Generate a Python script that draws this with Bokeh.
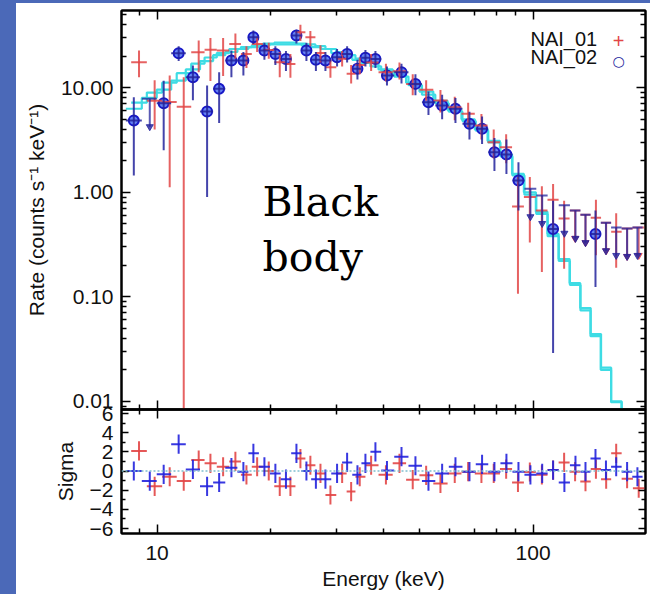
import numpy as np
from bokeh.plotting import figure
from bokeh.models import (LogAxis, LinearAxis, FixedTicker, PrintfTickFormatter,
                          Range1d, Label, ColumnDataSource, Span)
from bokeh.layouts import column
from bokeh.embed import file_html
from bokeh.resources import INLINE

# ---------------- data ----------------
# NAI_01 (red) bin centres in keV
nai01_energy = [8.95, 9.85, 10.80, 11.77, 12.90, 13.86, 14.98, 16.15, 17.28, 18.45,
                19.81, 21.19, 22.62, 24.05, 25.56, 27.19, 28.90, 31.05, 32.81, 34.58,
                37.08, 40.6, 44.11, 47.84, 51.94, 56.69, 61.88, 67.17, 72.86, 78.56,
                84.77, 91.13, 98.0, 105.5, 113.0, 120.9, 129.3, 137.8, 146.9, 156.4,
                166.3, 177.8, 190.9]
nai01_rate = [17.6, 7.5, 7.3, 6.6, 21.9, 23.1, 22.7, 26.3, 21.1, 26.3,
              23.0, 17.6, 16.9, 34.0, 30.5, 21.5, 15.7, 19.0, 13.6, 16.5,
              17.5, 14.1, 14.4, 10.9, 9.56, 7.55, 6.5, 5.64, 4.36, 3.02,
              2.70, 0.73, 0.90, 0.67, 0.85, 0.56, None, None, 0.57, None,
              0.42, None, None]
nai01_lo = [12.6, 4.0, 1.12, 0.0, 14.1, 11.6, 13.0, 19.0, 15.5, 22.0,
            19.0, 12.6, 12.5, 28.0, 25.0, 17.5, 12.5, 16.0, 11.0, 13.5,
            14.5, 11.5, 12.0, 8.5, 7.5, 5.8, 4.9, 4.2, 3.2, 2.1,
            1.9, 0.107, 0.33, 0.173, 0.45, 0.186, None, None, 0.25, None,
            0.19, None, None]
nai01_hi = [22.7, 11.8, 13.1, 12.6, 28.4, 30.0, 30.0, 33.0, 25.0, 31.0,
            27.0, 22.0, 21.0, 40.0, 35.0, 25.5, 18.5, 22.5, 16.5, 19.5,
            21.0, 17.0, 17.5, 13.5, 11.8, 9.5, 8.2, 7.2, 5.6, 4.0,
            3.6, 1.40, 1.40, 1.14, 1.20, 0.83, None, None, 0.85, None,
            0.63, None, None]
nai01_upper = [None] * 36 + [0.67, 0.61, None, 0.51, None, 0.45, 0.46]
nai01_model = [7.2, 9.0, 11.2, 13.8, 17.0, 19.5, 21.5, 23.5, 24.5, 25.5,
               26.5, 27.0, 27.0, 26.5, 26.0, 25.0, 23.5, 22.0, 20.5, 19.0,
               17.5, 15.0, 13.3, 11.2, 9.2, 7.5, 6.1, 5.0, 4.0, 3.1,
               2.3, 1.5, 1.0, 0.65, 0.40, 0.23, 0.135, 0.078, 0.044, 0.021,
               0.010, 0.005, 0.0023]
nai01_sigma = [2.1, -1.6, -0.6, -1.05, 1.15, 0.8, 0.45, 1.0, -0.4, 0.45,
               0.0, -1.6, -1.6, 1.3, 0.6, -0.25, -2.5, -0.25, -2.15, -0.6,
               0.6, -0.4, 0.8, -0.9, -0.45, -1.3, -0.25, -0.07, -0.25, -0.25,
               0.2, -1.2, -0.1, -0.4, 0.1, 0.9, -0.07, -1.1, 0.2, -0.85,
               1.85, -0.8, -1.8]

# NAI_02 (blue) bin centres in keV
nai02_energy = [8.67, 9.56, 10.41, 11.41, 12.45, 13.58, 14.62, 15.76, 16.96, 18.03,
                19.29, 20.63, 22.01, 23.47, 24.95, 26.44, 28.03, 30.10, 32.01, 34.10,
                35.81, 38.07, 40.86, 44.66, 48.64, 52.68, 57.28, 62.15, 67.71, 73.15,
                78.90, 84.92, 91.41, 98.35, 105.7, 113.0, 121.1, 129.6, 137.8, 146.5,
                156.2, 166.3, 177.8, 189.4]
nai02_rate = [4.86, None, 7.12, 21.4, 12.6, 5.93, 9.8, 18.2, 18.2, 30.5,
              22.7, 21.1, 18.9, 31.6, 22.7, 18.5, 18.2, 19.6, 21.1, 15.2,
              19.4, 18.9, 13.1, 14.1, 10.9, 7.28, 6.77, 6.29, 4.52, 4.05,
              2.42, 2.30, 1.30, None, None, 0.445, None, None, None, 0.40,
              None, None, None, None]
nai02_lo = [1.45, None, 2.53, 18.0, 7.6, 0.9, 4.6, 12.6, 13.1, 26.3,
            18.5, 16.5, 14.5, 26.5, 18.0, 14.5, 14.5, 16.0, 17.5, 12.0,
            16.0, 15.5, 10.5, 11.0, 8.5, 5.5, 5.0, 4.6, 3.2, 2.9,
            1.6, 1.5, 0.67, None, None, 0.029, None, None, None, 0.124,
            None, None, None, None]
nai02_hi = [8.13, None, 11.7, 25.0, 16.3, 10.5, 14.1, 22.7, 22.0, 35.3,
            27.0, 25.0, 22.5, 36.0, 27.0, 22.0, 22.0, 23.5, 25.0, 18.5,
            23.0, 22.5, 16.0, 17.0, 13.5, 9.2, 8.6, 8.0, 5.9, 5.3,
            3.3, 3.2, 1.94, None, None, 0.83, None, None, None, 0.67,
            None, None, None, None]
nai02_upper = [None, 7.85] + [None] * 31 + [1.08, 0.93, None, 0.75, 0.67, 0.61, None,
                                             0.51, 0.46, 0.45, 0.46]
nai02_model = [6.3, 8.0, 9.6, 11.7, 15.0, 18.0, 20.5, 22.0, 23.5, 24.5,
               25.5, 26.0, 26.0, 26.0, 25.5, 24.5, 23.5, 21.5, 20.0, 18.5,
               17.3, 16.0, 14.5, 12.8, 10.6, 8.6, 7.1, 5.9, 4.8, 3.9,
               3.0, 2.2, 1.45, 0.95, 0.62, 0.38, 0.22, 0.13, 0.074, 0.042,
               0.020, 0.0098, 0.0048, 0.0022]
nai02_sigma = [0.0, -1.05, -0.35, 2.8, 0.17, -1.6, -1.2, 0.35, -0.07, 1.85,
               0.45, -0.25, -0.85, 1.85, 0.0, -0.85, -0.85, -0.25, 0.9, -0.4,
               0.8, 2.0, 0.05, 1.5, 0.55, -1.05, -0.25, 0.45, -0.07, 0.7,
               -0.07, 0.8, -0.07, -0.4, -0.25, 0.1, -1.2, 0.6, -0.07, 1.3,
               0.1, 0.45, -0.07, -0.6]

x_major = [10, 100]
rate_major = [0.01, 0.1, 1, 10]
sigma_major = [-6, -4, -2, 0, 2, 4, 6]
sigma_minor = [-5, -3, -1, 1, 3, 5]

# ---------------- styling ----------------
RED = "#e24646"
BLUE_ERR = "#23239c"
BLUE_FILL = "#4a6cf2"
BLUE_RING = "#1818c8"
BLUE_RES = "#2222dd"
CYAN = "#3edce4"
FONT = "Liberation Sans"
BG = "#4b69b8"

x_minor = [8, 9] + [k * 10 for k in range(2, 10)] + [200]
rate_minor = [k * 10.0 ** d for d in range(-3, 2) for k in range(2, 10)]


def edges_from_centres(c):
    lc = np.log10(np.asarray(c, float))
    mid = (lc[1:] + lc[:-1]) / 2
    first = lc[0] - (mid[0] - lc[0])
    last = lc[-1] + (lc[-1] - mid[-1])
    return 10 ** np.concatenate([[first], mid, [last]])


def style_axis(ax, labels):
    ax.axis_line_color = "black"
    ax.axis_line_width = 2
    ax.major_tick_in = 9
    ax.major_tick_out = 0
    ax.minor_tick_in = 5
    ax.minor_tick_out = 0
    ax.major_tick_line_color = "black"
    ax.minor_tick_line_color = "black"
    ax.major_tick_line_width = 1.5
    ax.minor_tick_line_width = 1.5
    if labels:
        ax.major_label_text_font = FONT
        ax.major_label_text_font_size = "21px"
        ax.major_label_text_color = "#111111"
        ax.major_label_standoff = 8
    else:
        ax.major_label_text_font_size = "1px"
        ax.major_label_text_alpha = 0
        ax.major_label_standoff = 0
    ax.axis_label_text_font = FONT
    ax.axis_label_text_font_size = "21px"
    ax.axis_label_text_font_style = "normal"
    ax.axis_label_text_color = "#111111"
    ax.axis_label_standoff = 10


def x_ticker():
    return FixedTicker(ticks=x_major, minor_ticks=x_minor)


def transparent(p):
    p.border_fill_alpha = 0
    p.background_fill_alpha = 0
    p.xgrid.visible = False
    p.ygrid.visible = False
    p.outline_line_color = "black"
    p.outline_line_width = 2


# ---------------- main panel ----------------
p1 = figure(width=634, height=417, x_axis_type="log", y_axis_type="log",
            x_range=Range1d(8.04, 199), y_range=Range1d(0.00835, 54.9),
            output_backend="svg", toolbar_location=None,
            min_border_left=105, min_border_right=5, min_border_top=7, min_border_bottom=11)
transparent(p1)

p1.yaxis.ticker = FixedTicker(ticks=rate_major, minor_ticks=rate_minor)
p1.yaxis.formatter = PrintfTickFormatter(format="%.2f")
p1.yaxis.axis_label = "Rate (counts s\u207b\u00b9 keV\u207b\u00b9)"
style_axis(p1.yaxis[0], True)
p1.xaxis.ticker = x_ticker()
style_axis(p1.xaxis[0], False)
ax_r = LogAxis(ticker=FixedTicker(ticks=rate_major, minor_ticks=rate_minor))
style_axis(ax_r, False)
p1.add_layout(ax_r, "right")
ax_t = LogAxis(ticker=x_ticker())
style_axis(ax_t, False)
p1.add_layout(ax_t, "above")

e01 = edges_from_centres(nai01_energy)
e02 = edges_from_centres(nai02_energy)

# model step curves
for edges, model in ((e01, nai01_model), (e02, nai02_model)):
    p1.step(x=list(edges), y=list(model) + [model[-1]], mode="after",
            line_color=CYAN, line_width=2.2)


def detections(edges, cen, rate, lo, hi):
    d = dict(x0=[], x1=[], xc=[], y=[], ylo=[], yhi=[])
    for i, r in enumerate(rate):
        if r is None:
            continue
        d["x0"].append(edges[i]); d["x1"].append(edges[i + 1]); d["xc"].append(cen[i])
        d["y"].append(r); d["ylo"].append(max(lo[i], 1e-4)); d["yhi"].append(hi[i])
    return ColumnDataSource(d)


def limits(edges, cen, upper):
    d = dict(x0=[], x1=[], xc=[], y=[], tip=[])
    for i, u in enumerate(upper):
        if u is None:
            continue
        d["x0"].append(edges[i]); d["x1"].append(edges[i + 1]); d["xc"].append(cen[i])
        d["y"].append(u); d["tip"].append(u / 1.85)
    return ColumnDataSource(d)


s02 = detections(e02, nai02_energy, nai02_rate, nai02_lo, nai02_hi)
u02 = limits(e02, nai02_energy, nai02_upper)
s01 = detections(e01, nai01_energy, nai01_rate, nai01_lo, nai01_hi)
u01 = limits(e01, nai01_energy, nai01_upper)

p1.scatter("xc", "y", source=s02, marker="circle", size=10, fill_color=BLUE_FILL,
           fill_alpha=0.85, line_color=BLUE_RING, line_width=2)
for src, col, alpha in ((s01, RED, 0.85), (s02, BLUE_ERR, 0.85)):
    p1.segment("x0", "y", "x1", "y", source=src, line_color=col, line_width=2, line_alpha=alpha)
    p1.segment("xc", "ylo", "xc", "yhi", source=src, line_color=col, line_width=2, line_alpha=alpha)
for src, col in ((u01, RED), (u02, BLUE_ERR)):
    p1.segment("x0", "y", "x1", "y", source=src, line_color=col, line_width=2, line_alpha=0.75)
    p1.segment("xc", "y", "xc", "tip", source=src, line_color=col, line_width=2, line_alpha=0.75)
    p1.scatter("xc", "tip", source=src, marker="inverted_triangle", size=7,
               fill_color=col, line_color=col, fill_alpha=0.8, line_alpha=0.8)

# legend (screen units relative to frame, y upward)
p1.add_layout(Label(x=409, y=371, x_units="screen", y_units="screen", text="NAI_01",
                    text_font=FONT, text_font_size="20px", text_baseline="middle",
                    text_color="#111111"))
p1.add_layout(Label(x=409, y=353, x_units="screen", y_units="screen", text="NAI_02",
                    text_font=FONT, text_font_size="20px", text_baseline="middle",
                    text_color="#111111"))
p1.add_layout(Label(x=497, y=369, x_units="screen", y_units="screen", text="+",
                    text_font=FONT, text_font_size="20px", text_baseline="middle",
                    text_align="center", text_color=RED))
p1.add_layout(Label(x=497, y=349, x_units="screen", y_units="screen", text="\u25cb",
                    text_font="DejaVu Sans", text_font_size="14px", text_baseline="middle",
                    text_align="center", text_color=BLUE_ERR))

# "Black body" annotation
p1.add_layout(Label(x=141, y=208, x_units="screen", y_units="screen", text="Black",
                    text_font="DejaVu Serif", text_font_size="41px",
                    text_baseline="alphabetic", text_color="black"))
p1.add_layout(Label(x=141, y=153, x_units="screen", y_units="screen", text="body",
                    text_font="DejaVu Serif", text_font_size="41px",
                    text_baseline="alphabetic", text_color="black"))

# ---------------- residual panel ----------------
p2 = figure(width=634, height=196, x_axis_type="log",
            x_range=p1.x_range, y_range=Range1d(-6.52, 6.42),
            output_backend="svg", toolbar_location=None,
            min_border_left=105, min_border_right=5, min_border_top=11, min_border_bottom=61)
transparent(p2)

p2.yaxis.ticker = FixedTicker(ticks=sigma_major, minor_ticks=sigma_minor)
p2.yaxis.axis_label = "Sigma"
style_axis(p2.yaxis[0], True)
p2.yaxis[0].major_tick_in = 7
p2.yaxis[0].minor_tick_in = 4
p2.xaxis.ticker = x_ticker()
p2.xaxis.formatter = PrintfTickFormatter(format="%d")
p2.xaxis.axis_label = "Energy (keV)"
style_axis(p2.xaxis[0], True)
p2.xaxis[0].major_label_standoff = 12
p2.xaxis[0].axis_label_standoff = 4
ax_r2 = LinearAxis(ticker=FixedTicker(ticks=sigma_major, minor_ticks=sigma_minor))
style_axis(ax_r2, False)
ax_r2.major_tick_in = 7
ax_r2.minor_tick_in = 4
p2.add_layout(ax_r2, "right")
ax_t2 = LogAxis(ticker=x_ticker())
style_axis(ax_t2, False)
p2.add_layout(ax_t2, "above")

p2.add_layout(Span(location=0, dimension="width", line_color="#7fbfd0",
                   line_width=1.5, line_dash="2 2"))


def resid_source(edges, cen, sig):
    s = np.asarray(sig, float)
    return ColumnDataSource(dict(x0=edges[:-1], x1=edges[1:], xc=cen, y=s,
                                 ylo=s - 1.0, yhi=s + 1.0))


r01 = resid_source(e01, nai01_energy, nai01_sigma)
r02 = resid_source(e02, nai02_energy, nai02_sigma)
for src, col in ((r01, RED), (r02, BLUE_RES)):
    p2.segment("x0", "y", "x1", "y", source=src, line_color=col, line_width=2, line_alpha=0.9)
    p2.segment("xc", "ylo", "xc", "yhi", source=src, line_color=col, line_width=2, line_alpha=0.9)

p1.margin = (3, 0, 0, 16)
p2.margin = (-22, 0, 0, 16)
page_bg = ("linear-gradient(to bottom, %s 3px, rgba(0,0,0,0) 3px), "
           "linear-gradient(to right, %s 16px, #ffffff 16px)" % (BG, BG))
layout = column(p1, p2, spacing=0, styles={"background": page_bg})

open("out.html", "w").write(file_html(layout, INLINE))
